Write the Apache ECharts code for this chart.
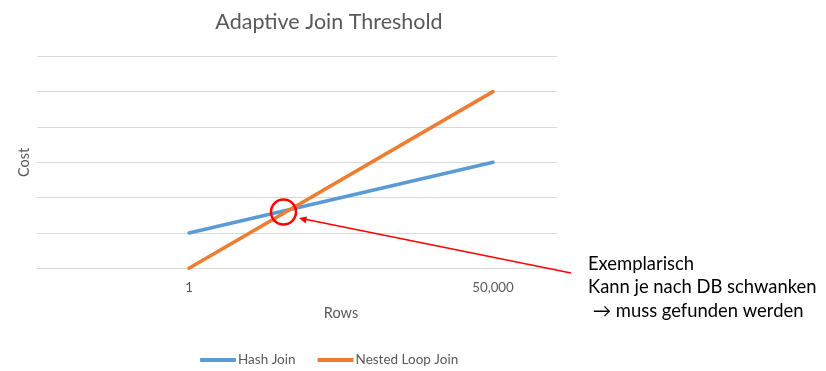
<!DOCTYPE html>
<html>
<head>
<meta charset="utf-8">
<script src="https://cdn.jsdelivr.net/npm/echarts@6/dist/echarts.min.js"></script>
<style>html,body{margin:0;padding:0;background:#fff}#c{width:826px;height:371px}</style>
</head>
<body>
<div id="c"></div>
<script>
const categories = ['1', '50,000'];
const hashJoin = [1, 3];
const nestedLoopJoin = [0, 5];
const seriesNames = ['Hash Join', 'Nested Loop Join'];
const noteLines = ['Exemplarisch', 'Kann je nach DB schwanken', ' \u2192 muss gefunden werden'];

const FONT = 'Lato';
const chart = echarts.init(document.getElementById('c'), null, {renderer: 'canvas'});
chart.setOption({
  animation: false,
  backgroundColor: '#fff',
  color: ['#5B9BD5', '#ED7D31'],
  title: {
    text: 'Adaptive Join Threshold',
    left: 324, top: 6, textAlign: 'center',
    textStyle: {fontFamily: FONT, fontSize: 21.5, fontWeight: 'normal', color: '#595959'}
  },
  grid: {left: 37, right: 181, top: 56.3, bottom: 371 - 268.3, containLabel: false},
  xAxis: {
    type: 'category', data: categories, boundaryGap: true,
    name: 'Rows', nameLocation: 'middle', nameGap: 38,
    nameTextStyle: {fontFamily: FONT, fontSize: 14.5, color: '#595959'},
    axisLine: {show: true, lineStyle: {color: '#D9D9D9', width: 1}},
    axisTick: {show: false},
    axisLabel: {fontFamily: FONT, fontSize: 13.3, color: '#595959', margin: 13}
  },
  yAxis: {
    type: 'value', min: 0, max: 6, interval: 1,
    name: 'Cost', nameLocation: 'middle', nameGap: 5, nameRotate: 90,
    nameTextStyle: {fontFamily: FONT, fontSize: 14.5, color: '#595959'},
    axisLine: {show: false}, axisTick: {show: false}, axisLabel: {show: false},
    splitLine: {lineStyle: {color: '#D9D9D9', width: 1}}
  },
  legend: {
    left: 195, top: 348,
    itemWidth: 36, itemHeight: 4, itemGap: 22,
    icon: 'roundRect',
    textStyle: {fontFamily: FONT, fontSize: 13.5, color: '#595959', padding: [0, 0, 0, -3]},
    data: seriesNames
  },
  series: [
    {name: seriesNames[0], type: 'line', data: hashJoin, symbol: 'none', lineStyle: {width: 3.5, cap: 'round'}},
    {name: seriesNames[1], type: 'line', data: nestedLoopJoin, symbol: 'none', lineStyle: {width: 3.5, cap: 'round'}}
  ],
  graphic: [
    {type: 'rect', z: 50, shape: {x: 557, y: 40, width: 269, height: 240}, style: {fill: '#fff'}},
    {type: 'circle', z: 100, shape: {cx: 283.5, cy: 212, r: 12.5}, style: {fill: 'none', stroke: '#FF0000', lineWidth: 2.5}},
    {type: 'line', z: 100, shape: {x1: 571, y1: 273, x2: 304, y2: 219}, style: {stroke: '#FF0000', lineWidth: 1.5}},
    {type: 'polygon', z: 100, shape: {points: [[299, 218], [307, 216.5], [305.6, 223.4]]}, style: {fill: '#FF0000'}},
    {type: 'text', z: 100, left: 588, top: 252, style: {text: noteLines.join('\n'), fontFamily: FONT, fontSize: 18.4, lineHeight: 23.5, fill: '#000'}}
  ]
});
</script>
</body>
</html>
